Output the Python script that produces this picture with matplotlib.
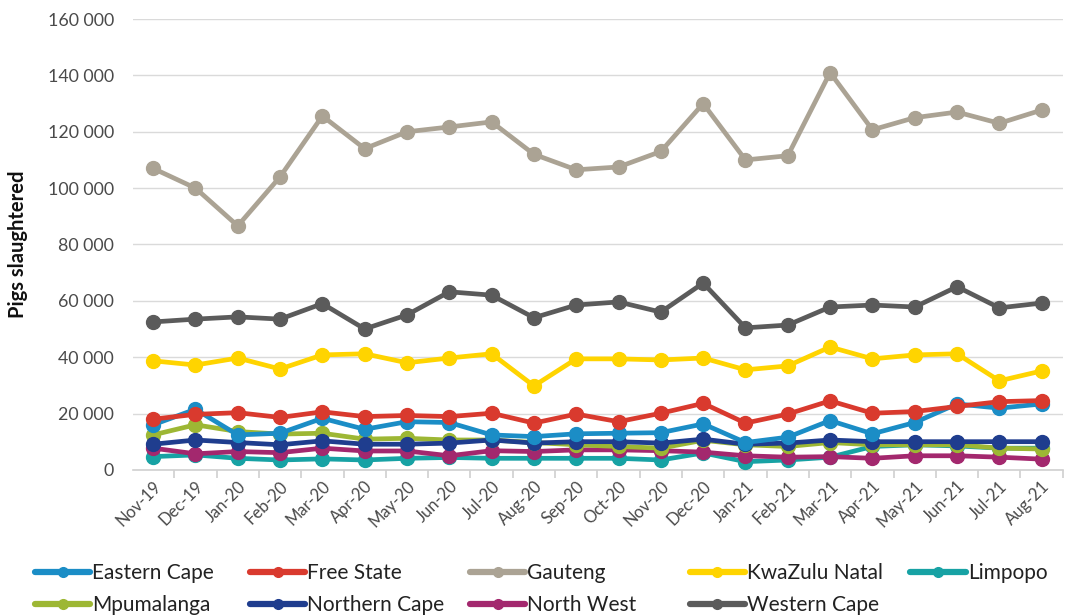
import matplotlib
matplotlib.use("Agg")
import matplotlib.pyplot as plt
from matplotlib.ticker import FuncFormatter, MultipleLocator, FixedLocator
import numpy as np

months = ["Nov-19", "Dec-19", "Jan-20", "Feb-20", "Mar-20", "Apr-20", "May-20", "Jun-20",
          "Jul-20", "Aug-20", "Sep-20", "Oct-20", "Nov-20", "Dec-20", "Jan-21", "Feb-21",
          "Mar-21", "Apr-21", "May-21", "Jun-21", "Jul-21", "Aug-21"]

gauteng = [107000, 100000, 86600, 104000, 125600, 114000, 120000, 121700, 123500, 112000, 106500,
           107500, 113000, 130000, 110000, 111500, 141000, 120700, 125000, 127000, 123000, 127700]
western_cape = [52500, 53500, 54300, 53500, 59000, 50000, 55000, 63200, 62000, 54000, 58500,
                59600, 56000, 66300, 50400, 51400, 57800, 58500, 57800, 65000, 57500, 59200]
kwazulu_natal = [38700, 37200, 39700, 35800, 40800, 41200, 38000, 39700, 41200, 29800, 39400,
                 39400, 39000, 39700, 35500, 36900, 43600, 39400, 40800, 41200, 31600, 35100]
free_state = [18000, 19700, 20300, 18600, 20600, 18900, 19300, 18900, 20100, 16600, 19800,
              17100, 20100, 23600, 16600, 19800, 24500, 20100, 20700, 22500, 24200, 24600]
eastern_cape = [16000, 21500, 12400, 13000, 18300, 14400, 17100, 16800, 12400, 11800, 12800,
                13000, 13200, 16300, 9700, 11600, 17500, 12800, 16800, 23400, 21900, 23400]
mpumalanga = [12400, 16000, 13600, 12700, 13000, 10900, 11200, 10600, 10600, 9700, 8900,
              8300, 7700, 10500, 8900, 8300, 9700, 8900, 8900, 8900, 7700, 7400]
northern_cape = [9100, 10600, 9700, 8900, 10300, 9100, 9100, 9500, 10600, 9500, 10000,
                 10000, 9500, 10900, 9100, 9500, 10600, 10000, 10000, 10000, 10000, 10000]
north_west = [7700, 5700, 6500, 6100, 7700, 6700, 6700, 5000, 6800, 6500, 7100,
              7100, 6800, 6300, 5000, 4500, 4700, 4100, 5000, 5000, 4500, 3800]
limpopo = [4700, 5300, 4100, 3500, 3900, 3500, 4100, 4400, 4100, 4100, 4100,
           4100, 3500, 6000, 2900, 3500, 4500, 8300, 8900, 8500, 7700, 7700]

series = [
    ("Eastern Cape", eastern_cape, "#1B8DC6"),
    ("Free State", free_state, "#D93A2E"),
    ("Gauteng", gauteng, "#ABA394"),
    ("KwaZulu Natal", kwazulu_natal, "#FFD400"),
    ("Limpopo", limpopo, "#17A2A4"),
    ("Mpumalanga", mpumalanga, "#9DB734"),
    ("Northern Cape", northern_cape, "#1F3D8E"),
    ("North West", north_west, "#A3286E"),
    ("Western Cape", western_cape, "#5B5B5B"),
]
zorders = {"Limpopo": 3, "North West": 4, "Mpumalanga": 5, "Northern Cape": 6,
           "Eastern Cape": 7, "Free State": 8, "KwaZulu Natal": 9, "Western Cape": 10, "Gauteng": 11}

plt.rcParams['font.family'] = ['Lato', 'DejaVu Sans']

fig = plt.figure(figsize=(10.66, 6.15), dpi=100)
ax = fig.add_axes([0.125, 0.236, 0.872, 0.733])

x = np.arange(len(months))
handles = {}
for name, vals, col in series:
    h, = ax.plot(x, vals, color=col, lw=3.4, marker="o", markersize=10,
                 label=name, zorder=zorders[name], solid_capstyle="round")
    handles[name] = h

ax.set_ylim(0, 160000)
ax.set_xlim(-0.47, 21.5)
ax.yaxis.set_major_locator(MultipleLocator(20000))
ax.yaxis.set_major_formatter(FuncFormatter(lambda v, p: f"{int(v):,}".replace(",", " ")))
ax.grid(axis="y", color="#DADADA", lw=1)
ax.set_axisbelow(True)
for s in ["top", "right", "left"]:
    ax.spines[s].set_visible(False)
ax.spines["bottom"].set_color("#D0D0D0")
ax.spines["bottom"].set_linewidth(1.2)
ax.tick_params(axis="y", length=0, labelsize=12.8, labelcolor="#4A4A4A", pad=14)

ax.set_xticks(x)
ax.set_xticklabels(months, rotation=45, ha="right", rotation_mode="anchor",
                   fontsize=12, color="#4A4A4A")
ax.tick_params(axis="x", which="major", length=0, pad=6)
ax.xaxis.set_minor_locator(FixedLocator(np.arange(-0.5, 22, 1)))
ax.tick_params(axis="x", which="minor", length=6, color="#D0D0D0", width=1.2)

ax.set_ylabel("Pigs slaughtered", fontsize=14.5, fontweight="bold", color="#111111", labelpad=14)

columns = [
    (0.033, ["Eastern Cape", "Mpumalanga"]),
    (0.2345, ["Free State", "Northern Cape"]),
    (0.441, ["Gauteng", "North West"]),
    (0.647, ["KwaZulu Natal", "Western Cape"]),
    (0.854, ["Limpopo"]),
]
for xpos, names in columns:
    leg = fig.legend(handles=[handles[n] for n in names], loc="upper left",
                     bbox_to_anchor=(xpos, 0.084), borderaxespad=0, borderpad=0,
                     frameon=False, fontsize=15, handlelength=2.65, handletextpad=0.1,
                     labelspacing=0.55, labelcolor="#222222")
    for lh in leg.legend_handles:
        lh.set_markersize(7)
        lh.set_linewidth(4.5)

fig.savefig("out.png", dpi=100)
